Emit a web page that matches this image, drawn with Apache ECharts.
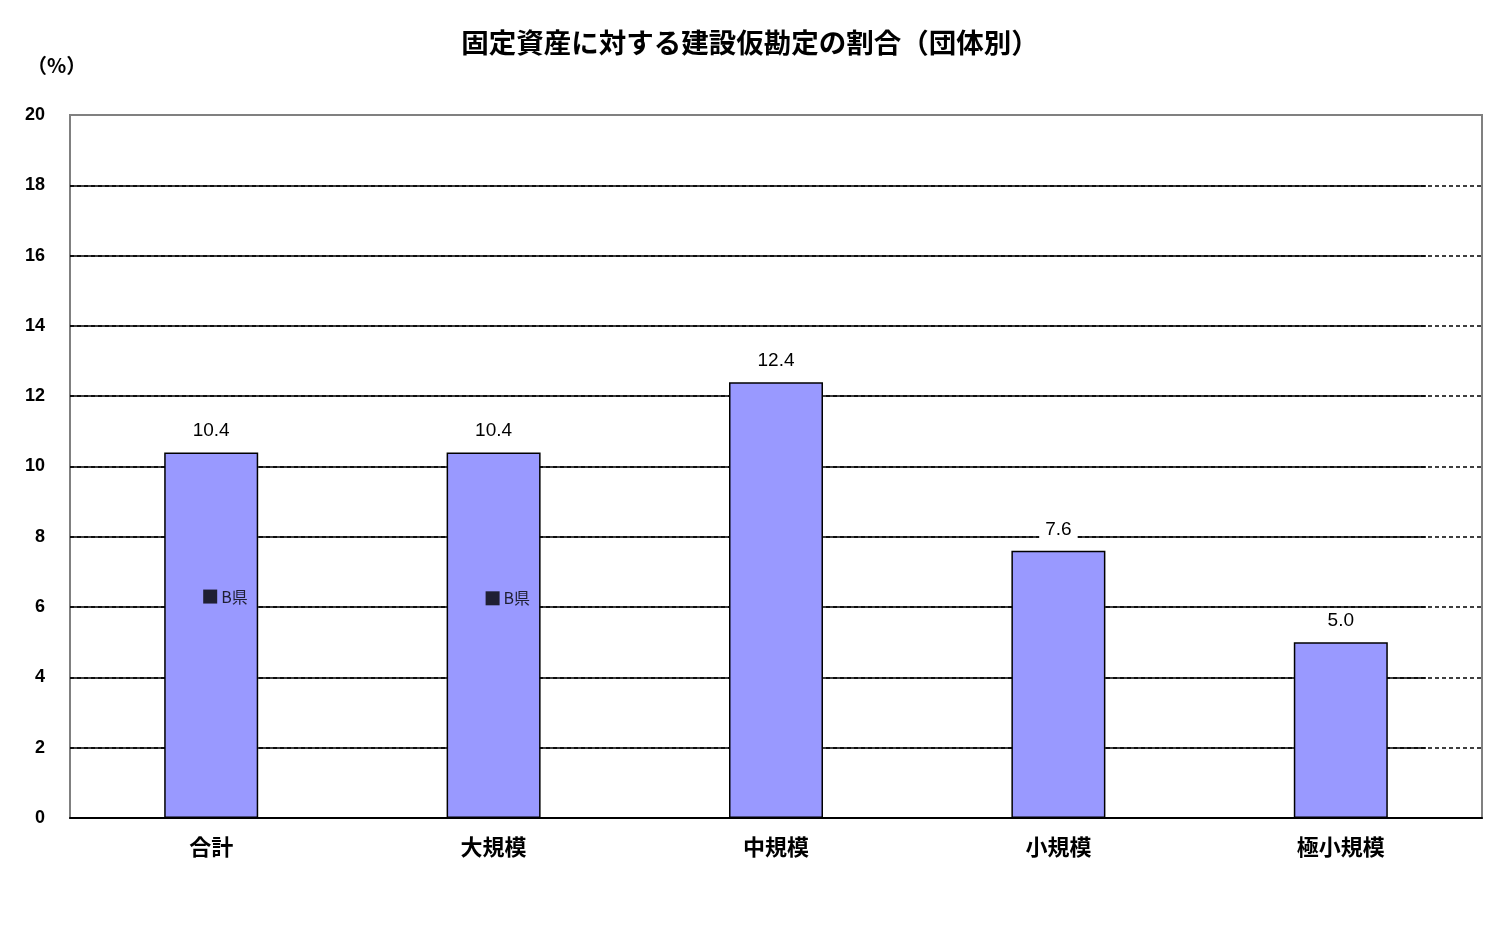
<!DOCTYPE html>
<html><head><meta charset="utf-8">
<script src="https://cdn.jsdelivr.net/npm/echarts@6/dist/echarts.min.js"></script>
<style>html,body{margin:0;padding:0;background:#fff}#c{width:1499px;height:926px}</style>
</head><body><div id="c"></div>
<script>
const titleText = '固定資産に対する建設仮勘定の割合（団体別）';
const unitText = '（%）';
const categories = ['合計', '大規模', '中規模', '小規模', '極小規模'];
const values = [10.4, 10.4, 12.4, 7.6, 5.0];
const markerCategories = ['合計', '大規模'];
const markerValues = [6.3, 6.25];
const markerLabel = 'B県';
const yMin = 0, yMax = 20, yStep = 2;

const chart = echarts.init(document.getElementById('c'), null, {renderer: 'canvas'});
const jp = '"Noto Sans CJK JP", sans-serif';
const num = '"Liberation Sans", Arial, sans-serif';
chart.setOption({
  backgroundColor: '#fff',
  animation: false,
  title: [
    {text: titleText, left: 745, top: 24, textAlign: 'center',
     textStyle: {fontFamily: jp, fontSize: 27.5, fontWeight: 'bold', color: '#000'}},
    {text: unitText, left: 22, top: 50,
     textStyle: {fontFamily: jp, fontSize: 20, fontWeight: 'bold', color: '#000'}}
  ],
  grid: [
    {left: 70, top: 115, width: 1412, height: 703, show: true, borderColor: '#808080', borderWidth: 2, backgroundColor: 'transparent'},
    {left: 70, top: 115, width: 1356, height: 703, show: false}
  ],
  xAxis: [
    {type: 'category', gridIndex: 0, data: categories,
     axisLine: {lineStyle: {color: '#000', width: 2}},
     axisTick: {inside: true, length: 8, lineStyle: {color: '#000'}},
     axisLabel: {fontFamily: jp, fontSize: 22, fontWeight: 'bold', color: '#000', margin: 18}},
    {type: 'value', gridIndex: 1, min: 0, max: 1, show: false}
  ],
  yAxis: [
    {type: 'value', gridIndex: 0, min: yMin, max: yMax, interval: yStep,
     axisLine: {show: false},
     axisTick: {show: false},
     axisLabel: {fontFamily: num, fontSize: 18, fontWeight: 'bold', color: '#000', margin: 25},
     splitLine: {show: true, showMaxLine: false, lineStyle: {color: '#000', width: 1.5, type: [4, 3]}}},
    {type: 'value', gridIndex: 1, min: yMin, max: yMax, interval: yStep,
     axisLine: {show: false}, axisTick: {show: false}, axisLabel: {show: false},
     splitLine: {show: true, showMaxLine: false, lineStyle: {color: '#000', width: 1.5, type: 'solid'}}}
  ],
  series: [
    {type: 'bar', xAxisIndex: 0, yAxisIndex: 0, data: values, barWidth: 94, z: 3,
     itemStyle: {color: '#9999FF', borderColor: '#000', borderWidth: 1.5},
     label: {show: true, position: 'top', distance: 10, fontFamily: num, fontSize: 19, color: '#000',
             backgroundColor: '#fff', padding: [2, 6],
             formatter: p => p.value.toFixed(1)}},
    {type: 'scatter', xAxisIndex: 0, yAxisIndex: 0, z: 4,
     data: markerCategories.map((c, i) => [c, markerValues[i]]),
     symbol: 'rect', symbolSize: 14, symbolOffset: [-1, 0],
     itemStyle: {color: '#000'},
     label: {show: true, position: 'right', distance: 4, formatter: markerLabel,
             fontFamily: jp, fontSize: 16, color: '#000'}}
  ]
});
</script></body></html>
